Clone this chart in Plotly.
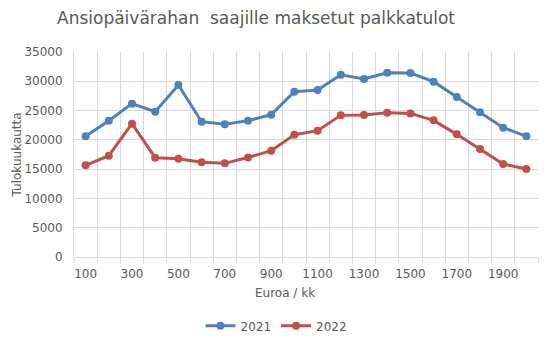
import plotly.graph_objects as go

categories = [100, 200, 300, 400, 500, 600, 700, 800, 900, 1000,
              1100, 1200, 1300, 1400, 1500, 1600, 1700, 1800, 1900, 2000]
values_2021 = [20600, 23270, 26180, 24810, 29360, 23100, 22650, 23270, 24300, 28220,
               28510, 31120, 30390, 31470, 31410, 29930, 27310, 24700, 22080, 20600]
values_2022 = [15650, 17300, 22760, 16960, 16790, 16160, 15990, 16990, 18150, 20880,
               21570, 24180, 24240, 24640, 24520, 23330, 20940, 18440, 15880, 15020]
tick_labels = [100, 300, 500, 700, 900, 1100, 1300, 1500, 1700, 1900]
y_ticks = [0, 5000, 10000, 15000, 20000, 25000, 30000, 35000]

FONT = "DejaVu Sans"
GRAY = "#595959"

fig = go.Figure()
fig.add_trace(go.Scatter(x=categories, y=values_2021, name="2021", mode="lines+markers",
                         line=dict(color="#4F81BD", width=3),
                         marker=dict(symbol="circle", size=8, color="#4F81BD")))
fig.add_trace(go.Scatter(x=categories, y=values_2022, name="2022", mode="lines+markers",
                         line=dict(color="#C0504D", width=3),
                         marker=dict(symbol="circle", size=8, color="#C0504D")))

fig.update_layout(
    width=553, height=343,
    margin=dict(l=74, r=15, t=52, b=86, autoexpand=False),
    paper_bgcolor="white", plot_bgcolor="white",
    font=dict(family=FONT, size=12, color=GRAY),
    title=dict(text="Ansiopäivärahan\u00a0 saajille maksetut palkkatulot",
               x=0.463, xanchor="center", y=0.948, yanchor="middle",
               font=dict(family=FONT, size=17, color=GRAY)),
    showlegend=True,
    legend=dict(orientation="h", x=0.5, xref="container", xanchor="center",
                yref="container", y=0.05, yanchor="middle",
                font=dict(family=FONT, size=12, color=GRAY)),
    xaxis=dict(range=[50, 2050], tickmode="array", tickvals=tick_labels,
               ticktext=[str(t) for t in tick_labels], showgrid=False,
               zeroline=False, showline=True, linecolor="#D9D9D9", linewidth=1,
               ticks="", ticklabelstandoff=6, tickfont=dict(family=FONT, size=12, color=GRAY),
               minor=dict(tick0=50, dtick=100, showgrid=True, gridcolor="#D9D9D9",
                          gridwidth=1, ticks="outside", ticklen=5, tickcolor="#D9D9D9"),
               mirror=False),
    yaxis=dict(range=[0, 35000], tickmode="array", tickvals=y_ticks,
               ticktext=[str(t) for t in y_ticks],
               showgrid=True, gridcolor="#D9D9D9", gridwidth=1, zeroline=False,
               showline=True, linecolor="#D9D9D9", ticks="", ticklabelstandoff=8,
               tickfont=dict(family=FONT, size=12, color=GRAY)),
    annotations=[
        dict(text="Tulokuukautta", xref="paper", yref="paper", x=-0.123, y=0.5,
             xanchor="center", yanchor="middle", textangle=-90, showarrow=False,
             font=dict(family=FONT, size=12, color=GRAY)),
        dict(text="Euroa / kk", xref="paper", yref="paper", x=0.455, y=-0.175,
             xanchor="center", yanchor="middle", showarrow=False,
             font=dict(family=FONT, size=12, color=GRAY)),
    ],
)

fig.write_html("out.html")
